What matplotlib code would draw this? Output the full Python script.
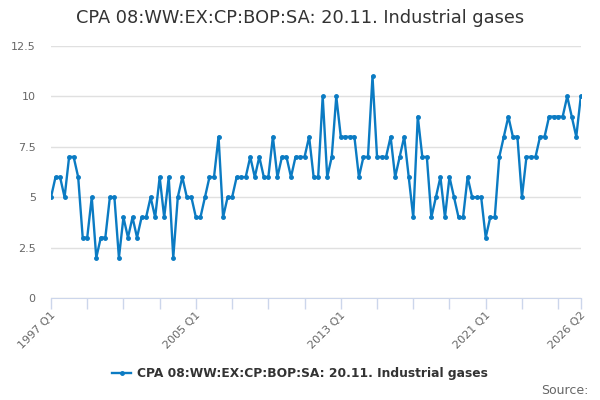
import matplotlib
matplotlib.use("Agg")
import matplotlib.pyplot as plt

title = "CPA 08:WW:EX:CP:BOP:SA: 20.11. Industrial gases"

# quarterly values, 1997 Q1 .. 2026 Q2
values = [5, 6, 6, 5, 7, 7, 6, 3, 3, 5, 2, 3, 3, 5, 5, 2,
          4, 3, 4, 3, 4, 4, 5, 4, 6, 4, 6, 2, 5, 6, 5, 5,
          4, 4, 5, 6, 6, 8, 4, 5, 5, 6, 6, 6, 7, 6, 7, 6,
          6, 8, 6, 7, 7, 6, 7, 7, 7, 8, 6, 6, 10, 6, 7, 10,
          8, 8, 8, 8, 6, 7, 7, 11, 7, 7, 7, 8, 6, 7, 8, 6,
          4, 9, 7, 7, 4, 5, 6, 4, 6, 5, 4, 4, 6, 5, 5, 5,
          3, 4, 4, 7, 8, 9, 8, 8, 5, 7, 7, 7, 8, 8, 9, 9,
          9, 9, 10, 9, 8, 10]

labels = []
for i in range(len(values)):
    labels.append("%d Q%d" % (1997 + i // 4, i % 4 + 1))

label_idx = [0, 32, 64, 96, len(values) - 1]
tick_idx = list(range(0, len(values), 8)) + [len(values) - 1]

yticks = [0, 2.5, 5, 7.5, 10, 12.5]
ytick_labels = ["0", "2.5", "5", "7.5", "10", "12.5"]

color = "#0b7bc3"

fig = plt.figure(figsize=(6, 4), dpi=100)
ax = fig.add_axes([0.085, 0.255, 0.883, 0.63])

x = list(range(len(values)))
ax.plot(x, values, color=color, lw=1.7, marker="o", ms=2.5, label=title)

ax.set_xlim(0, len(values) - 1)
ax.set_ylim(0, 12.5)
ax.set_yticks(yticks)
ax.set_yticklabels(ytick_labels)
ax.yaxis.grid(True, color="#e0e0e0", lw=1)
ax.set_axisbelow(True)

ax.set_xticks(tick_idx)
ax.set_xticklabels(["" for i in tick_idx])
for i in label_idx:
    ax.text(i - 0.2, -0.6, labels[i], rotation=45, ha="right", va="top",
            fontsize=8, color="#666666", rotation_mode="anchor")

for s in ["top", "right", "left"]:
    ax.spines[s].set_visible(False)
ax.spines["bottom"].set_color("#ccd6eb")
ax.tick_params(axis="x", length=8, color="#ccd6eb", width=1)
ax.tick_params(axis="y", length=0, labelsize=8, labelcolor="#666666", pad=11)

fig.text(0.5, 0.955, title, ha="center", va="center", fontsize=12.8, color="#333333")

leg = fig.legend(loc="center", bbox_to_anchor=(0.5, 0.065), frameon=False,
                 prop={"weight": "bold", "size": 8.8}, handlelength=1.6,
                 handletextpad=0.5)
for t in leg.get_texts():
    t.set_color("#333333")

fig.text(0.98, 0.025, "Source:", ha="right", va="center", fontsize=9, color="#666666")

fig.savefig("out.png", dpi=100)
